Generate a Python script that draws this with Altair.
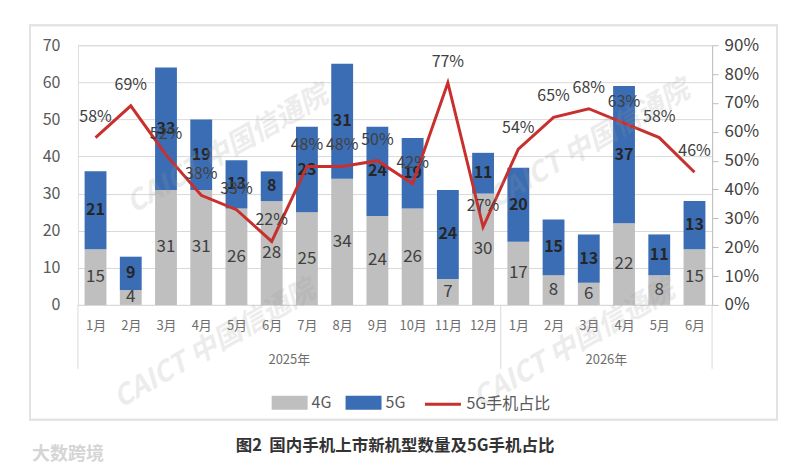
import altair as alt
import pandas as pd

months = ["1月", "2月", "3月", "4月", "5月", "6月", "7月", "8月", "9月", "10月", "11月", "12月",
          "1月", "2月", "3月", "4月", "5月", "6月"]
g4_counts = [15, 4, 31, 31, 26, 28, 25, 34, 24, 26, 7, 30, 17, 8, 6, 22, 8, 15]
g5_counts = [21, 9, 33, 19, 13, 8, 23, 31, 24, 19, 24, 11, 20, 15, 13, 37, 11, 13]
share_pct = [58, 69, 52, 38, 33, 22, 48, 48, 50, 42, 77, 27, 54, 65, 68, 63, 58, 46]
year_names = ["2025年", "2026年"]
year_centers = [5.5, 14.5]
year_bounds = [-0.5, 11.5, 17.5]

FONT = "Noto Sans CJK SC"
GRAY = "#BFBFBF"
BLUE = "#3B6DB4"
RED = "#C8302E"

df = pd.DataFrame({
    "idx": list(range(len(months))),
    "month": months,
    "g4": g4_counts,
    "g5": g5_counts,
    "share": [s / 100 for s in share_pct],
})
years_df = pd.DataFrame({"pos": year_centers, "year": year_names})
bounds_df = pd.DataFrame({"pos": year_bounds})

W, H = 635, 260

month_expr = "[" + ",".join("'%s'" % m for m in months) + "][datum.value]"
x_scale = alt.Scale(domain=[-0.5, 17.5], nice=False, zero=False)
x_axis = alt.Axis(values=list(range(18)), labelExpr=month_expr, grid=False, ticks=False,
                  domain=True, domainColor="#D9D9D9", labelPadding=15, labelFontSize=13,
                  labelColor="#6E6E6E", labelFont=FONT, title=None)

yl_scale = alt.Scale(domain=[0, 70], nice=False)
yl_axis = alt.Axis(values=list(range(0, 71, 10)), grid=True, gridColor="#D9D9D9", domain=False,
                   ticks=False, labelPadding=18, labelFontSize=16, labelColor="#595959",
                   labelFont=FONT, title=None)
yr_scale = alt.Scale(domain=[0, 0.9], nice=False)
yr_axis = alt.Axis(values=[i / 10 for i in range(10)], format=".0%", orient="right", grid=False,
                   domain=True, domainColor="#BFBFBF", ticks=True, tickColor="#BFBFBF", tickSize=6,
                   labelPadding=6, labelFontSize=17, labelColor="#404040", labelFont=FONT, title=None)

base = alt.Chart(df).transform_calculate(
    x0="datum.idx - 0.31", x1="datum.idx + 0.31",
    total="datum.g4 + datum.g5", mid4="datum.g4 / 2", mid5="datum.g4 + datum.g5 / 2",
    s4="'4G'", s5="'5G'", sl="'5G手机占比'",
)

color_scale = alt.Scale(domain=["4G", "5G"], range=[GRAY, BLUE])
bar_symbol = "M-1,-0.39L1,-0.39L1,0.39L-1,0.39Z"
color_legend = alt.Legend(orient="none", legendX=194, legendY=340, direction="horizontal",
                          title=None, symbolType=bar_symbol, symbolSize=1296, symbolStrokeWidth=0,
                          labelFontSize=16, labelColor="#595959", labelFont=FONT,
                          columnPadding=14, labelOffset=4)

bar4 = base.mark_bar().encode(
    x=alt.X("x0:Q", scale=x_scale, axis=x_axis), x2="x1:Q",
    y=alt.Y("g4:Q", scale=yl_scale, axis=yl_axis), y2=alt.datum(0),
    color=alt.Color("s4:N", scale=color_scale, legend=color_legend),
)
bar5 = base.mark_bar().encode(
    x=alt.X("x0:Q", scale=x_scale, axis=x_axis), x2="x1:Q",
    y=alt.Y("g4:Q", scale=yl_scale, axis=yl_axis), y2="total:Q",
    color=alt.Color("s5:N", scale=color_scale, legend=color_legend),
)
txt4 = base.mark_text(font=FONT, fontSize=17, color="#404040").encode(
    x=alt.X("idx:Q", scale=x_scale, axis=x_axis),
    y=alt.Y("mid4:Q", scale=yl_scale, axis=yl_axis),
    text="g4:Q",
)
txt5 = base.mark_text(font=FONT, fontSize=16, fontWeight="bold", color="#262626").encode(
    x=alt.X("idx:Q", scale=x_scale, axis=x_axis),
    y=alt.Y("mid5:Q", scale=yl_scale, axis=yl_axis),
    text="g5:Q",
)
sep = alt.Chart(bounds_df).mark_rule(color="#D9D9D9", strokeWidth=1).encode(
    x=alt.X("pos:Q", scale=x_scale, axis=x_axis), y=alt.value(H), y2=alt.value(H + 64),
)
yr_txt = alt.Chart(years_df).mark_text(font=FONT, fontSize=13, color="#6E6E6E").encode(
    x=alt.X("pos:Q", scale=x_scale, axis=x_axis), y=alt.value(H + 55), text="year:N",
)
frame = alt.Chart(years_df).mark_rect(filled=False, stroke="#E3E3E3", strokeWidth=2).encode(
    x=alt.value(-48), x2=alt.value(700), y=alt.value(-20), y2=alt.value(375),
)

bars = alt.layer(frame, bar4, bar5, txt4, txt5, sep, yr_txt)

stroke_legend = alt.Legend(orient="none", legendX=346, legendY=340, title=None,
                           symbolType="stroke", symbolSize=1296, symbolStrokeWidth=3,
                           labelFontSize=16, labelColor="#595959", labelFont=FONT, labelOffset=4)
line = base.mark_line(strokeWidth=3).encode(
    x=alt.X("idx:Q", scale=x_scale, axis=x_axis),
    y=alt.Y("share:Q", scale=yr_scale, axis=yr_axis),
    stroke=alt.Stroke("sl:N", scale=alt.Scale(range=[RED]), legend=stroke_legend),
)
pct = base.mark_text(font=FONT, fontSize=16, color="#404040", dy=-21).encode(
    x=alt.X("idx:Q", scale=x_scale, axis=x_axis),
    y=alt.Y("share:Q", scale=yr_scale, axis=yr_axis),
    text=alt.Text("share:Q", format=".0%"),
)
lines = alt.layer(line, pct)

wm_style = dict(font=FONT, fontSize=28, fontWeight="bold", fontStyle="italic", color="#9A9A9A",
                opacity=0.18, angle=330, align="center", baseline="middle")
wm_src = alt.Chart(years_df.head(1))
wms = [
    wm_src.mark_text(**wm_style).encode(x=alt.value(x), y=alt.value(y), text=alt.value("CAICT 中国信通院"))
    for x, y in [(150, 105), (512, 100), (137, 300), (497, 300)]
]
logo = wm_src.mark_text(font=FONT, fontSize=18, fontWeight="bold", color="#D5D5D5").encode(
    x=alt.value(-10), y=alt.value(410), text=alt.value("大数跨境"))

chart = alt.layer(bars, lines, *wms, logo).resolve_scale(y="independent").properties(
    width=W, height=H,
    autosize=alt.AutoSizeParams(type="none"),
    padding={"left": 70, "top": 37, "right": 80, "bottom": 164},
    title=alt.TitleParams("图2\u00a0\u00a0国内手机上市新机型数量及5G手机占比", orient="bottom", anchor="middle",
                          font=FONT, fontSize=16.5, fontWeight="bold", color="#333333", offset=-26),
).configure_view(stroke=None).configure(background="white")

chart.save("out.html", embed_options={"renderer": "svg", "actions": False})
